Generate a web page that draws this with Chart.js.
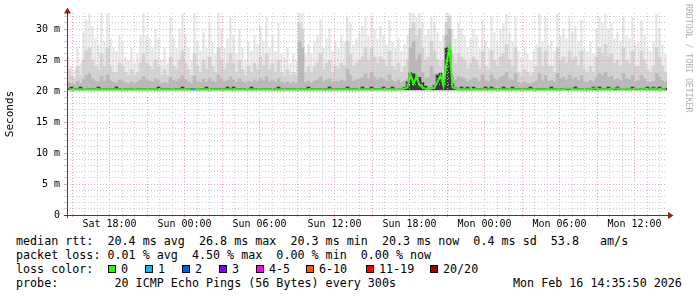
<!DOCTYPE html>
<html><head><meta charset="utf-8">
<script src="https://cdn.jsdelivr.net/npm/chart.js@4/dist/chart.umd.min.js"></script>
<style>
html,body{margin:0;padding:0;background:#fff;}
#wrap{position:relative;width:697px;height:297px;overflow:hidden;background:#fff;font-family:"DejaVu Sans Mono",monospace;}
#c{position:absolute;left:0;top:0;}
.row{position:absolute;left:16px;font-size:11.7px;line-height:14px;white-space:pre;color:#000;}
.lab{position:absolute;top:262px;font-size:11.7px;line-height:14px;white-space:pre;color:#000;}
.sw{position:absolute;top:265px;width:6px;height:6px;border:1px solid #000;}
#wm{position:absolute;left:683px;top:4px;writing-mode:vertical-rl;font-size:8.2px;line-height:11px;color:#b0b0b0;white-space:pre;}
</style></head>
<body>
<div id="wrap">
<canvas id="c" width="697" height="232"></canvas>
<div id="wm">RRDTOOL / TOBI OETIKER</div>
<div class="row" style="top:234px">median rtt:  20.4 ms avg  26.8 ms max  20.3 ms min  20.3 ms now  0.4 ms sd  53.8   am/s</div>
<div class="row" style="top:248px">packet loss: 0.01 % avg  4.50 % max  0.00 % min  0.00 % now</div>
<div class="row" style="top:262px">loss color:</div>
<div id="legend"></div>
<div class="row" style="top:276px">probe:        20 ICMP Echo Pings (56 Bytes) every 300s</div>
<div class="row" style="top:276px;left:513px">Mon Feb 16 14:35:50 2026</div>
</div>
<script>
// ---- time axis (hours since Sat 00:00) ----
const X_MIN = 14.6, X_MAX = 62.6;
const STEP = 0.24;          // one column = 14.4 minutes
const Y_MAX = 32.6;
const SMOKE_BASE = 20.2;    // fastest ping

const xLabelHours = [18, 24, 30, 36, 42, 48, 54, 60];
const xLabelTexts = ['Sat 18:00','Sun 00:00','Sun 06:00','Sun 12:00','Sun 18:00','Mon 00:00','Mon 06:00','Mon 12:00'];
const yLabelValues = [0, 5, 10, 15, 20, 25, 30];
const yLabelTexts = ['0','5 m','10 m','15 m','20 m','25 m','30 m'];

// ---- loss legend ----
const lossLabels = ['0','1','2','3','4-5','6-10','11-19','20/20'];
const lossColors = ['#26ff00','#00b8ff','#0059ff','#7e00ff','#ff00ff','#ff5a00','#ff0000','#a10000'];

// ---- smoke: highest ping per column ----
const smokeMax = [
 25.5,24,23.5,27,24.5,29.5,31.5,32.6,30.5,28.5,
 27.5,32.6,28,32.6,28.5,27,26.5,29,28,25.5,
 25,27,24.5,26,29,32.6,29,28.5,27,30,
 28.5,25,27,24.5,32,28.5,27,30,32.6,29,
 27,25,32.6,28,26.5,29.5,27,31,28,26,
 32.6,30,27,28.5,32,29,26,30,27,25,
 28,26.5,29,27.5,30.5,28,32,27,29,26.5,
 31,26,25.5,27,24.5,26,25,32.6,32.6,26,
 27.5,26,28,29,31.5,27,28.5,30,26.5,28,
 27,29,28,32,31,27.5,28.5,29.5,30.5,32,
 29,32,30,28.5,30.5,29,27.5,31.5,28,27,
 28.5,26.5,27.5,29,32.6,32.6,32,32.6,31,29,
 30,32,31,29.5,28,29,32.6,32.6,30,28.5,
 31,30,29,27,28.5,30,29,27,31.5,28,
 27,32,29.5,28,30,31,32.5,29.5,28,32,
 26.5,25.5,27,26,25,26.5,27.5,32.5,28,32,
 27.5,28,26.5,32.5,29,30,28.5,32,29.5,30.5,
 28,31.5,27,26.5,28,26,30,32,31,32.5,
 30,31,28.5,29.5,28,32,29,28.5,32,27.5,
 28,31.5,29,27,26.5,28,32.5,30,27.5,26];

// ---- smoke: upper quartile ----
const smokeUpper = [
 23.5,22.5,22,24,22.5,25,26.5,27,25,24,
 23.5,26,24,27,24,23,23,24.5,24,23,
 22.5,23.5,22.5,23,24.5,26,24.5,24,23.5,25,
 24,22.5,23.5,22.5,25.5,24,23.5,25,26.5,24.5,
 23.5,22.5,26,24,23,25,23.5,25.5,24,23,
 27,25,23.5,24.5,26,24.5,23,25,23.5,22.5,
 24,23,24.5,23.5,25.5,24,26,23.5,24.5,23,
 25,23,22.5,23.5,22.5,23,22.5,31,30,23,
 24,23,24,24.5,26,23.5,24.5,25,23,24,
 23.5,24.5,24,28,26,24,24.5,25,25.5,27,
 25,27,25.5,24.5,25.5,25,24,26.5,24,23.5,
 24.5,23,24,25,30,31,29,30,27,25,
 25.5,28,26.5,25,24,25,31,32,26,24.5,
 26,25.5,25,23.5,24.5,25.5,25,23.5,26.5,24,
 23.5,26.5,25,24,25.5,26,27.5,25,24,27,
 23,22.5,23.5,23,22.5,23,24,27,24,26.5,
 24,24,23,27,25,25.5,24.5,26.5,25,25.5,
 24,26.5,23.5,23,24,23,25.5,27,26,27.5,
 25.5,26,24.5,25,24,27,25,24.5,26.5,24,
 24,26.5,25,23.5,23,24,27,25.5,24,23];

// ---- smoke: lower band ----
const smokeLower = [
 21.4,21.2,21,21.6,21.2,22,22.5,22.8,22,21.6,
 21.5,22.4,21.6,22.6,21.7,21.4,21.3,21.8,21.6,21.3,
 21.2,21.5,21.2,21.4,21.8,22.4,21.8,21.6,21.5,22,
 21.7,21.2,21.4,21.2,22.2,21.7,21.5,22,22.5,21.8,
 21.4,21.2,22.4,21.6,21.4,21.9,21.4,22.1,21.6,21.4,
 22.6,22,21.5,21.7,22.3,21.8,21.4,22,21.5,21.2,
 21.6,21.4,21.8,21.5,22,21.7,22.3,21.5,21.8,21.4,
 22,21.4,21.2,21.5,21.2,21.4,21.2,28,27,21.4,
 21.6,21.3,21.6,21.8,22.3,21.5,21.8,22,21.4,21.6,
 21.5,21.8,21.6,23.5,22.5,21.6,21.8,22,22.2,22.8,
 22,23,22.2,21.8,22.2,22,21.6,22.6,21.7,21.5,
 21.8,21.4,21.6,22,27,28,25,26,23,22,
 22.2,24,22.8,22,21.7,22,29,30,22.5,21.8,
 22.4,22.2,22,21.5,21.8,22.2,22,21.5,22.6,21.7,
 21.5,22.6,22,21.7,22.2,22.4,23,22,21.7,22.8,
 21.4,21.2,21.5,21.3,21.2,21.4,21.6,22.8,21.7,22.5,
 21.6,21.7,21.4,22.8,22,22.2,21.8,22.6,22,22.2,
 21.7,22.5,21.5,21.4,21.7,21.4,22.2,22.8,22.4,23,
 22.2,22.4,21.8,22,21.7,22.8,22,21.8,22.5,21.6,
 21.7,22.5,22,21.5,21.4,21.6,22.8,22.2,21.7,21.4];

// ---- smoke: core around the median ----
const smokeCore = [
 20.4,20.65,20.4,20.4,20.65,20.4,20.4,20.4,20.4,20.4,
 20.65,20.4,20.4,20.4,20.4,20.4,20.65,20.4,20.4,20.4,
 20.4,20.4,20.4,20.4,20.4,20.4,20.4,20.4,20.4,20.4,
 20.65,20.4,20.4,20.4,20.4,20.4,20.4,20.4,20.65,20.4,
 20.4,20.4,20.4,20.4,20.4,20.4,20.65,20.4,20.4,20.4,
 20.4,20.4,20.4,20.65,20.4,20.65,20.4,20.4,20.4,20.4,
 20.4,20.65,20.4,20.4,20.4,20.4,20.4,20.4,20.4,20.4,
 20.65,20.4,20.4,20.4,20.4,20.4,20.4,20.4,20.4,20.4,
 20.65,20.4,20.4,20.4,20.4,20.4,20.4,20.65,20.4,20.4,
 20.4,20.4,20.4,20.65,20.4,20.4,20.4,20.4,20.65,20.4,
 20.4,20.65,20.4,20.4,20.4,20.65,20.4,20.4,20.65,20.4,
 20.4,20.4,20.6,21.5,23.0,22.8,22.0,22.2,21.4,20.8,
 20.4,20.5,21.0,22.6,22.9,21.5,27.0,26.5,21.2,20.5,
 20.4,20.65,20.4,20.65,20.4,20.65,20.4,20.4,20.4,20.65,
 20.4,20.65,20.4,20.4,20.4,20.65,20.4,20.4,20.65,20.4,
 20.4,20.4,20.4,20.4,20.65,20.4,20.4,20.4,20.4,20.4,
 20.4,20.65,20.4,20.4,20.4,20.4,20.4,20.4,20.4,20.65,
 20.4,20.4,20.4,20.4,20.4,20.65,20.4,20.65,20.4,20.4,
 20.65,20.4,20.4,20.65,20.4,20.4,20.4,20.4,20.65,20.4,
 20.4,20.4,20.4,20.65,20.4,20.65,20.4,20.65,20.4,20.4];

// ---- median rtt ----
const medianRtt = [
 20.3,20.3,20.3,20.3,20.3,20.3,20.3,20.3,20.3,20.3,
 20.3,20.3,20.3,20.3,20.3,20.3,20.3,20.3,20.3,20.3,
 20.3,20.3,20.3,20.3,20.3,20.3,20.3,20.3,20.3,20.3,
 20.3,20.3,20.3,20.3,20.3,20.3,20.3,20.3,20.3,20.3,
 20.3,20.3,20.3,20.3,20.3,20.3,20.3,20.3,20.3,20.3,
 20.3,20.3,20.3,20.3,20.3,20.3,20.3,20.3,20.3,20.3,
 20.3,20.3,20.3,20.3,20.3,20.3,20.3,20.3,20.3,20.3,
 20.3,20.3,20.3,20.3,20.3,20.3,20.3,20.3,20.3,20.3,
 20.3,20.3,20.3,20.3,20.3,20.3,20.3,20.3,20.3,20.3,
 20.3,20.3,20.3,20.3,20.3,20.3,20.3,20.3,20.3,20.3,
 20.3,20.3,20.3,20.3,20.3,20.3,20.3,20.3,20.3,20.3,
 20.3,20.3,20.4,20.6,22.7,21.2,22.3,21.0,20.6,20.4,
 20.3,20.4,20.6,21.5,22.5,20.8,24.5,27.0,20.6,20.4,
 20.3,20.3,20.3,20.3,20.3,20.3,20.3,20.3,20.3,20.3,
 20.3,20.3,20.3,20.3,20.3,20.3,20.3,20.3,20.3,20.3,
 20.3,20.3,20.3,20.3,20.3,20.3,20.3,20.3,20.3,20.3,
 20.3,20.3,20.3,20.3,20.3,20.3,20.4,20.4,20.3,20.3,
 20.3,20.3,20.3,20.3,20.3,20.4,20.4,20.3,20.3,20.3,
 20.3,20.3,20.4,20.4,20.3,20.3,20.4,20.3,20.3,20.4,
 20.3,20.3,20.4,20.3,20.3,20.4,20.3,20.3,20.3,20.3];

// ---- lost pings per column (of 20) ----
const lostPings = [
 0,0,0,0,0,0,0,0,0,0, 0,0,0,0,0,0,0,0,0,0,
 0,0,0,0,0,0,0,0,0,0, 0,0,0,0,0,0,0,0,0,0,
 0,0,1,0,0,0,0,0,0,0, 0,0,0,0,0,0,0,0,0,0,
 0,0,0,0,0,0,0,0,0,0, 0,0,0,0,0,0,0,0,0,0,
 0,0,0,0,0,0,0,0,0,0, 0,0,0,0,0,0,0,0,0,0,
 0,0,0,0,0,0,0,0,0,0, 0,0,0,0,0,0,0,0,0,0,
 0,0,0,0,0,0,0,0,0,0, 0,0,0,0,0,0,0,0,0,0,
 0,0,0,0,0,0,0,0,0,0, 0,0,0,0,0,0,0,0,0,0,
 0,0,0,0,0,0,0,0,0,0, 0,0,0,0,0,0,0,0,0,0,
 0,0,0,0,0,0,0,0,0,0, 0,0,0,0,0,0,0,0,0,0];

function lossBucket(n){
  if (n <= 0) return 0; if (n === 1) return 1; if (n === 2) return 2; if (n === 3) return 3;
  if (n <= 5) return 4; if (n <= 10) return 5; if (n <= 19) return 6; return 7;
}
function colX(i){ return X_MIN + STEP * (i + 0.5); }
function floating(arr){ return arr.map((v, i) => ({x: colX(i), y: [SMOKE_BASE, v]})); }

// legend boxes
const boxLeft = [108, 145, 182, 219, 256, 306, 366, 430];
const leg = document.getElementById('legend');
lossLabels.forEach((t, i) => {
  const b = document.createElement('div'); b.className = 'sw';
  b.style.left = boxLeft[i] + 'px'; b.style.background = lossColors[i]; leg.appendChild(b);
  const l = document.createElement('div'); l.className = 'lab';
  l.style.left = (boxLeft[i] + 13) + 'px'; l.textContent = t; leg.appendChild(l);
});

const PINK = 'rgba(228,150,150,0.85)';
const GRAY = 'rgba(195,195,195,0.85)';

const axisPlugin = {
  id: 'rrdAxes',
  afterDraw(chart) {
    const ctx = chart.ctx, a = chart.chartArea;
    ctx.save();
    ctx.strokeStyle = '#404040'; ctx.lineWidth = 1;
    ctx.beginPath();
    ctx.moveTo(a.left + 0.5, a.bottom + 3); ctx.lineTo(a.left + 0.5, a.top - 3);
    ctx.moveTo(a.left - 3, a.bottom + 0.5); ctx.lineTo(a.right + 3, a.bottom + 0.5);
    ctx.stroke();
    ctx.fillStyle = '#9a1c1c';
    ctx.beginPath();
    ctx.moveTo(a.left + 0.5, a.top - 5.5); ctx.lineTo(a.left - 3, a.top + 0.5); ctx.lineTo(a.left + 4, a.top + 0.5); ctx.closePath(); ctx.fill();
    ctx.beginPath();
    ctx.moveTo(a.right + 6.5, a.bottom + 0.5); ctx.lineTo(a.right + 1, a.bottom - 3); ctx.lineTo(a.right + 1, a.bottom + 4); ctx.closePath(); ctx.fill();
    ctx.restore();
  }
};

const barCommon = {type: 'bar', grouped: false, barPercentage: 1, categoryPercentage: 1, borderWidth: 0};

new Chart(document.getElementById('c'), {
  data: {
    datasets: [
      Object.assign({}, barCommon, {data: floating(smokeMax), backgroundColor: '#e3e3e3', order: 5, barPercentage: 0.7}),
      Object.assign({}, barCommon, {data: floating(smokeUpper), backgroundColor: '#d3d3d3', order: 4}),
      Object.assign({}, barCommon, {data: floating(smokeLower), backgroundColor: '#b8b8b8', order: 3}),
      Object.assign({}, barCommon, {data: floating(smokeCore), backgroundColor: '#3a3a3a', order: 2}),
      {type: 'line', data: medianRtt.map((v, i) => ({x: colX(i), y: v})), order: 1,
       borderWidth: 2, pointRadius: 0, tension: 0, borderColor: lossColors[0],
       segment: {borderColor: c => lossColors[lossBucket(lostPings[c.p1DataIndex])]}}
    ]
  },
  options: {
    responsive: false, animation: false, events: [],
    layout: {padding: {top: 13, right: 30, left: 0, bottom: 0}},
    plugins: {legend: {display: false}, tooltip: {enabled: false}},
    scales: {
      x: {
        type: 'linear', min: X_MIN, max: X_MAX, offset: false,
        afterFit(s) { s.height = 17; },
        afterBuildTicks(s) { const t = []; for (let h = Math.ceil(X_MIN); h <= Math.floor(X_MAX); h++) t.push({value: h}); s.ticks = t; },
        ticks: {autoSkip: false, maxRotation: 0, padding: 1, color: '#000',
          font: {family: 'DejaVu Sans Mono', size: 10},
          callback: v => { const k = xLabelHours.indexOf(v); return k >= 0 ? xLabelTexts[k] : ''; }},
        grid: {z: 1, offset: false, lineWidth: 1, tickLength: 2,
          color: c => (c.tick && c.tick.value % 3 === 0) ? PINK : GRAY,
          tickColor: c => (c.tick && c.tick.value % 3 === 0) ? PINK : GRAY},
        border: {display: false, dash: [1, 2]}
      },
      y: {
        type: 'linear', min: 0, max: Y_MAX,
        afterFit(s) { s.width = 67; },
        afterBuildTicks(s) { const t = []; for (let v = 0; v <= Math.floor(Y_MAX); v++) t.push({value: v}); s.ticks = t; },
        ticks: {autoSkip: false, padding: 4, color: '#000',
          font: {family: 'DejaVu Sans Mono', size: 10},
          callback: v => { const k = yLabelValues.indexOf(v); return k >= 0 ? yLabelTexts[k] : ''; }},
        title: {display: true, text: 'Seconds', color: '#000', padding: {top: 4, bottom: 0},
          font: {family: 'DejaVu Sans Mono', size: 11}},
        grid: {z: 1, lineWidth: 1, tickLength: 3,
          color: c => (c.tick && c.tick.value % 5 === 0) ? PINK : GRAY,
          tickColor: c => (c.tick && c.tick.value % 5 === 0) ? PINK : GRAY},
        border: {display: false, dash: [1, 2]}
      }
    }
  },
  plugins: [axisPlugin]
});
</script>
</body></html>
